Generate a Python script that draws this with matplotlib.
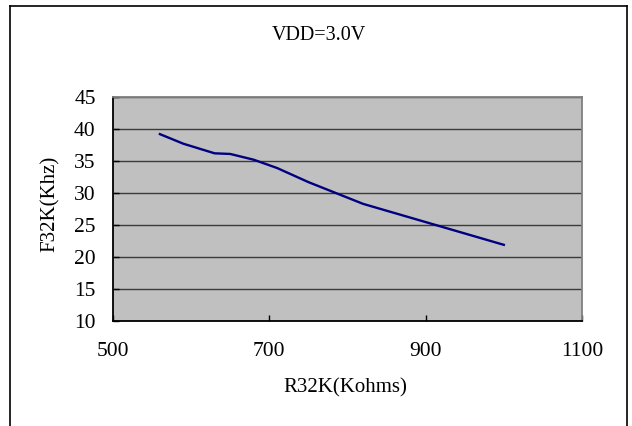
import matplotlib
matplotlib.use("Agg")
import matplotlib.pyplot as plt
from matplotlib.lines import Line2D

# datos
r32k = [560, 590, 630, 650, 680, 710, 750, 820, 1000]
f32k = [39.2, 37.7, 36.2, 36.1, 35.2, 33.9, 31.7, 28.3, 21.9]

x_ticks = [500, 700, 900, 1100]
y_ticks = [10, 15, 20, 25, 30, 35, 40, 45]

titulo = "VDD=3.0V"
etiqueta_x = "R32K(Kohms)"
etiqueta_y = "F32K(Khz)"

plt.rcParams["font.family"] = ["Liberation Serif", "DejaVu Serif"]

W, H = 632, 426
fig = plt.figure(figsize=(W / 100, H / 100), dpi=100)
ax = fig.add_axes([113 / W, 1 - 321 / H, (582 - 113) / W, (321 - 97) / H])

ax.set_facecolor("#c0c0c0")
ax.plot(r32k, f32k, color="#000080", linewidth=1.7, zorder=3)

ax.set_xlim(500, 1100)
ax.set_ylim(10, 45)
ax.set_xticks(x_ticks)
ax.set_yticks(y_ticks)
ax.tick_params(direction="in", length=4, width=1, labelsize=15.5, color="black")
ax.tick_params(axis="x", pad=15)
ax.tick_params(axis="y", pad=12.5)
ax.grid(axis="y", color="#3a3a3a", linewidth=1)
ax.set_axisbelow(True)

for lado in ["left", "bottom"]:
    ax.spines[lado].set_color("black")
    ax.spines[lado].set_linewidth(1.3)
for lado in ["top", "right"]:
    ax.spines[lado].set_color("#808080")
    ax.spines[lado].set_linewidth(1.3)

fig.text(319 / W, 1 - 35 / H, titulo, ha="center", va="center", fontsize=14.5)
fig.text(345 / W, 1 - 388 / H, etiqueta_x, ha="center", va="center", fontsize=15)
fig.text(50 / W, 1 - 204 / H, etiqueta_y, ha="center", va="center",
         fontsize=15, rotation=90)

# marco exterior (sin borde inferior)
xl, xr, yt = 10.5 / W, 627 / W, 1 - 5.5 / H
for xs, ys in [([xl, xl], [0, yt]), ([xl, xr], [yt, yt]), ([xr, xr], [yt, 0])]:
    fig.add_artist(Line2D(xs, ys, color="black", linewidth=1.2,
                          transform=fig.transFigure))

fig.savefig("out.png", dpi=100)
